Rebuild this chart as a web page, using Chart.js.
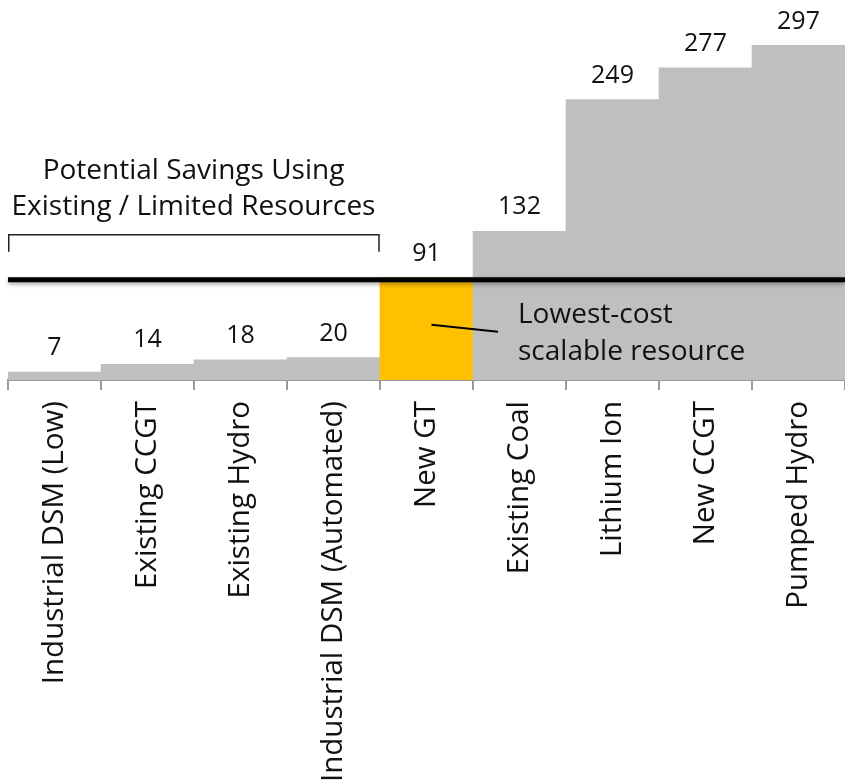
<!DOCTYPE html>
<html>
<head>
<meta charset="utf-8">
<script src="https://cdn.jsdelivr.net/npm/chart.js@4"></script>
<style>
  html, body { margin: 0; padding: 0; background: #fff; }
  #wrap { width: 845px; height: 783px; }
</style>
</head>
<body>
<div id="wrap"><canvas id="c" width="845" height="783"></canvas></div>
<script>
// ---- data ----
const categories = [
  "Industrial DSM (Low)", "Existing CCGT", "Existing Hydro", "Industrial DSM (Automated)",
  "New GT", "Existing Coal", "Lithium Ion", "New CCGT", "Pumped Hydro"
];
const costs = [7, 14, 18, 20, 91, 132, 249, 277, 297];
const highlightCategory = "New GT";
const thresholdValue = 89;
const savingsGroupFirst = 0;
const savingsGroupLast = 3;
const savingsNote = ["Potential Savings Using", "Existing / Limited Resources"];
const scalableNote = ["Lowest-cost", "scalable resource"];

const GRAY = "#BFBFBF";
const GOLD = "#FFC000";
const FONT = "'Open Sans', 'DejaVu Sans', sans-serif";

const barColors = categories.map(c => c === highlightCategory ? GOLD : GRAY);

const overlay = {
  id: "overlay",
  afterDatasetsDraw(chart) {
    const ctx = chart.ctx;
    const x = chart.scales.x, y = chart.scales.y;
    const area = chart.chartArea;
    const meta = chart.getDatasetMeta(0);

    // value labels
    ctx.save();
    ctx.fillStyle = "#111";
    ctx.font = "25px " + FONT;
    ctx.textAlign = "center";
    ctx.textBaseline = "middle";
    meta.data.forEach((bar, i) => {
      ctx.fillText(String(costs[i]), bar.x, bar.y - 24);
    });
    ctx.restore();

    // threshold line
    const ty = y.getPixelForValue(thresholdValue);
    ctx.save();
    ctx.shadowColor = "rgba(0,0,0,0.35)";
    ctx.shadowBlur = 4;
    ctx.shadowOffsetY = 2;
    ctx.strokeStyle = "#000";
    ctx.lineWidth = 5;
    ctx.beginPath();
    ctx.moveTo(area.left, ty);
    ctx.lineTo(area.right, ty);
    ctx.stroke();
    ctx.restore();

    // bracket over savings group
    const half = (x.getPixelForValue(1) - x.getPixelForValue(0)) / 2;
    const bx0 = x.getPixelForValue(savingsGroupFirst) - half;
    const bx1 = x.getPixelForValue(savingsGroupLast) + half - 1;
    const byTop = ty - 45;
    ctx.save();
    ctx.strokeStyle = "#222";
    ctx.lineWidth = 1.5;
    ctx.beginPath();
    ctx.moveTo(bx0 + 0.75, byTop + 17);
    ctx.lineTo(bx0 + 0.75, byTop);
    ctx.lineTo(bx1, byTop);
    ctx.lineTo(bx1, byTop + 17);
    ctx.stroke();
    ctx.fillStyle = "#111";
    ctx.font = "28px " + FONT;
    ctx.textAlign = "center";
    ctx.textBaseline = "middle";
    const cx = (bx0 + bx1) / 2;
    ctx.fillText(savingsNote[0], cx, byTop - 64);
    ctx.fillText(savingsNote[1], cx, byTop - 28);
    ctx.restore();

    // callout for highlighted bar
    const hi = categories.indexOf(highlightCategory);
    const hx = x.getPixelForValue(hi);
    const edge = hx + half;
    ctx.save();
    ctx.strokeStyle = "#000";
    ctx.lineWidth = 2;
    ctx.beginPath();
    ctx.moveTo(hx + 5, ty + 45);
    ctx.lineTo(edge + 25, ty + 52);
    ctx.stroke();
    ctx.fillStyle = "#111";
    ctx.font = "28px " + FONT;
    ctx.textAlign = "left";
    ctx.textBaseline = "middle";
    ctx.fillText(scalableNote[0], edge + 45, ty + 35);
    ctx.fillText(scalableNote[1], edge + 45, ty + 72);
    ctx.restore();
  }
};

new Chart(document.getElementById("c"), {
  type: "bar",
  data: {
    labels: categories,
    datasets: [{
      data: costs,
      backgroundColor: barColors,
      borderWidth: 0,
      categoryPercentage: 1.0,
      barPercentage: 1.0
    }]
  },
  options: {
    responsive: false,
    animation: false,
    layout: { padding: { left: 8, right: 0, top: 42, bottom: 0 } },
    plugins: { legend: { display: false }, tooltip: { enabled: false } },
    scales: {
      y: { display: false, min: 0, max: 300 },
      x: {
        afterFit(axis) { axis.height = 403; },
        border: { display: true, color: "#9A9A9A", width: 2 },
        grid: { display: true, drawOnChartArea: false, drawTicks: true, tickLength: 10, color: "#9A9A9A", lineWidth: 2, offset: true },
        ticks: {
          autoSkip: false,
          minRotation: 90,
          maxRotation: 90,
          padding: 11,
          color: "#111",
          font: { family: FONT, size: 29.5 }
        }
      }
    }
  },
  plugins: [overlay]
});
</script>
</body>
</html>
